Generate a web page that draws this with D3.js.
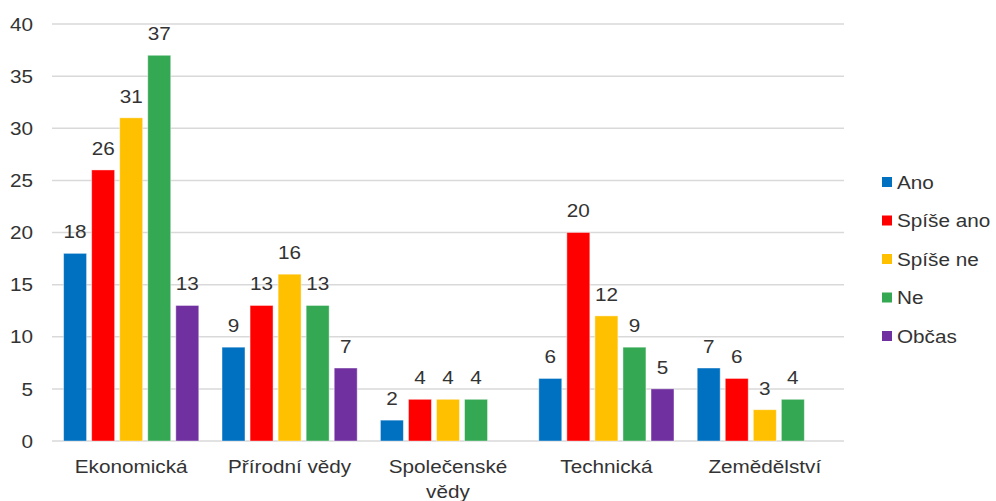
<!DOCTYPE html>
<html>
<head>
<meta charset="utf-8">
<script src="https://cdn.jsdelivr.net/npm/d3@7"></script>
<style>
  body { margin: 0; background: #fff; }
  svg { display: block; }
  text { font-family: "Liberation Sans", Arial, sans-serif; fill: #333; }
</style>
</head>
<body>
<svg id="chart"></svg>
<script>
// Data
const categories = ["Ekonomická", "Přírodní vědy", "Společenské vědy", "Technická", "Zemědělství"];
const seriesNames = ["Ano", "Spíše ano", "Spíše ne", "Ne", "Občas"];
const ano      = [18, 9, 2, 6, 7];
const spiseAno = [26, 13, 4, 20, 6];
const spiseNe  = [31, 16, 4, 12, 3];
const ne       = [37, 13, 4, 9, 4];
const obcas    = [13, 7, null, 5, null];
const yTicks   = [0, 5, 10, 15, 20, 25, 30, 35, 40];
const colors   = ["#0070c0", "#ff0000", "#ffc000", "#34a853", "#7030a0"];

const seriesValues = [ano, spiseAno, spiseNe, ne, obcas];

// the picture is a bit wider than tall text would be, so stretch horizontally
const width = 996, height = 501, sx = 1.12;
const X = px => px / sx;

const svg = d3.select("#chart")
  .attr("width", width)
  .attr("height", height)
  .attr("viewBox", `0 0 ${width / sx} ${height}`)
  .attr("preserveAspectRatio", "none");

const x0 = d3.scaleBand().domain(categories).range([X(52), X(844)]);
const pad = X(11.6);
const x1 = d3.scaleBand().domain(seriesNames)
  .range([pad, x0.bandwidth() - pad])
  .paddingInner(0.18);
const y = d3.scaleLinear().domain([0, 40]).range([441, 24]);

const fs = "18.5px";

// gridlines
svg.append("g")
  .selectAll("line")
  .data(yTicks)
  .enter().append("line")
  .attr("x1", X(52))
  .attr("x2", X(844))
  .attr("y1", d => y(d))
  .attr("y2", d => y(d))
  .attr("stroke", "#d9d9d9")
  .attr("stroke-width", 1.5);

// y tick labels
svg.append("g")
  .selectAll("text")
  .data(yTicks)
  .enter().append("text")
  .attr("x", X(33))
  .attr("y", d => y(d))
  .attr("dy", "0.36em")
  .attr("text-anchor", "end")
  .attr("font-size", fs)
  .text(d => d);

// bars
const rows = [];
categories.forEach((c, i) => {
  seriesNames.forEach((s, j) => {
    const v = seriesValues[j][i];
    if (v != null) rows.push({ cat: c, series: s, value: v, color: colors[j] });
  });
});

const bar = svg.append("g")
  .selectAll("g")
  .data(rows)
  .enter().append("g")
  .attr("transform", d => `translate(${x0(d.cat) + x1(d.series)},0)`);

bar.append("rect")
  .attr("x", 0)
  .attr("y", d => y(d.value))
  .attr("width", x1.bandwidth())
  .attr("height", d => y(0) - y(d.value))
  .attr("fill", d => d.color)
  .attr("stroke", "#fff")
  .attr("stroke-opacity", 0.5)
  .attr("stroke-width", 0.8);

bar.append("text")
  .attr("x", x1.bandwidth() / 2)
  .attr("y", d => y(d.value) - 15)
  .attr("text-anchor", "middle")
  .attr("font-size", fs)
  .text(d => d.value);

// category labels, wrapped when wider than the band
const catLabels = svg.append("g")
  .selectAll("text")
  .data(categories)
  .enter().append("text")
  .attr("x", d => x0(d) + x0.bandwidth() / 2)
  .attr("y", 473.5)
  .attr("text-anchor", "middle")
  .attr("font-size", fs)
  .text(d => d);

catLabels.each(function(d) {
  const t = d3.select(this);
  if (this.getComputedTextLength() > x0.bandwidth() * 0.95) {
    const words = d.split(" ");
    t.text(null);
    words.forEach((w, k) => {
      t.append("tspan")
        .attr("x", x0(d) + x0.bandwidth() / 2)
        .attr("dy", k === 0 ? 0 : 24.5)
        .text(w);
    });
  }
});

// legend
const legend = svg.append("g")
  .selectAll("g")
  .data(seriesNames)
  .enter().append("g")
  .attr("transform", (d, i) => `translate(0,${182 + i * 38.5})`);

legend.append("rect")
  .attr("x", X(882))
  .attr("y", -5)
  .attr("width", X(10))
  .attr("height", 10)
  .attr("fill", (d, i) => colors[i]);

legend.append("text")
  .attr("x", X(897))
  .attr("y", 0)
  .attr("dy", "0.36em")
  .attr("font-size", fs)
  .text(d => d);
</script>
</body>
</html>
